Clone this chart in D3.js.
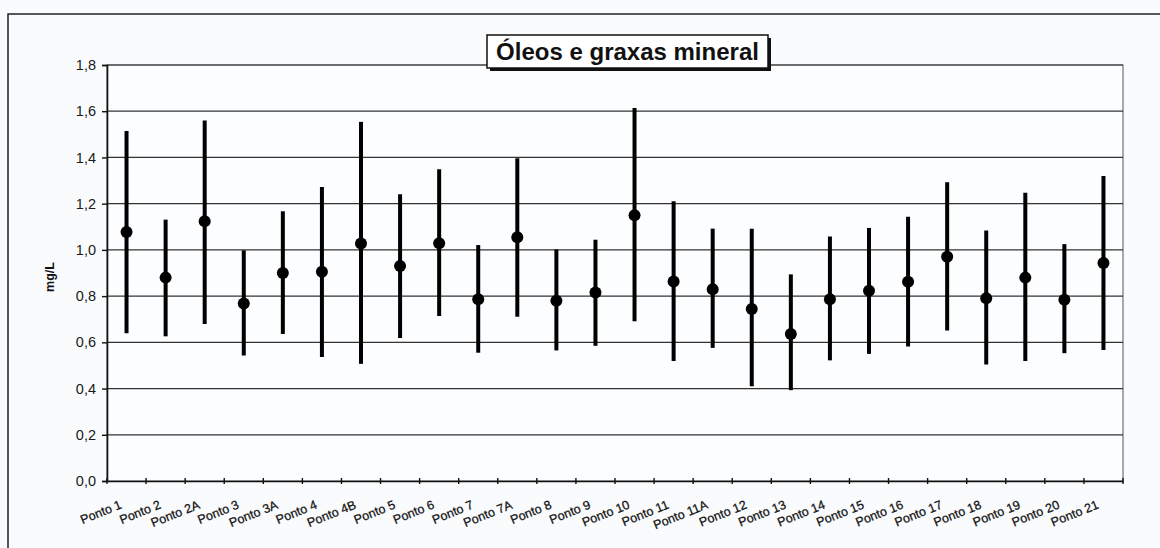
<!DOCTYPE html>
<html lang="pt">
<head>
<meta charset="UTF-8">
<title>Óleos e graxas mineral</title>
<script src="https://d3js.org/d3.v7.min.js"></script>
<style>
  body { margin: 0; background: #f9fbfd; }
  svg { display: block; font-family: "Liberation Sans", Arial, sans-serif; }
</style>
</head>
<body>
<div id="chart"></div>
<script>
// pontos de coleta
const pontos = ["Ponto 1", "Ponto 2", "Ponto 2A", "Ponto 3", "Ponto 3A", "Ponto 4", "Ponto 4B",
  "Ponto 5", "Ponto 6", "Ponto 7", "Ponto 7A", "Ponto 8", "Ponto 9", "Ponto 10", "Ponto 11",
  "Ponto 11A", "Ponto 12", "Ponto 13", "Ponto 14", "Ponto 15", "Ponto 16", "Ponto 17",
  "Ponto 18", "Ponto 19", "Ponto 20", "Ponto 21"];

// media (mg/L)
const media = [1.077, 0.880, 1.124, 0.768, 0.900, 0.905, 1.028, 0.930, 1.029, 0.786, 1.055,
  0.780, 0.816, 1.150, 0.863, 0.830, 0.744, 0.636, 0.786, 0.823, 0.862, 0.970, 0.791, 0.880,
  0.784, 0.943];

// limite superior
const maximo = [1.514, 1.131, 1.560, 0.998, 1.167, 1.272, 1.554, 1.241, 1.349, 1.021, 1.396,
  1.002, 1.044, 1.614, 1.210, 1.092, 1.092, 0.894, 1.058, 1.095, 1.143, 1.293, 1.084, 1.247,
  1.025, 1.320];

// limite inferior
const minimo = [0.639, 0.626, 0.679, 0.543, 0.636, 0.536, 0.507, 0.619, 0.714, 0.555, 0.711,
  0.565, 0.585, 0.691, 0.519, 0.576, 0.410, 0.393, 0.522, 0.550, 0.582, 0.651, 0.504, 0.519,
  0.553, 0.567];

const yTicks = [0, 0.2, 0.4, 0.6, 0.8, 1.0, 1.2, 1.4, 1.6, 1.8];

const W = 1160, H = 548;
const pLeft = 107, pRight = 1123, pTop = 65, pBottom = 481;

const svg = d3.select("#chart").append("svg")
  .attr("width", W).attr("height", H);

// moldura externa
svg.append("path")
  .attr("d", `M8,${H} L8,14 L${W},14`)
  .attr("fill", "none").attr("stroke", "#222").attr("stroke-width", 1.5);

const x = d3.scaleBand().domain(pontos).range([pLeft, pRight]).padding(0);
const y = d3.scaleLinear().domain([0, 1.8]).range([pBottom, pTop]);

const fmt = d => d3.format(".1f")(d).replace(".", ",");

// area do grafico
svg.append("rect")
  .attr("x", pLeft).attr("y", pTop)
  .attr("width", pRight - pLeft).attr("height", pBottom - pTop)
  .attr("fill", "#fcfdfe").attr("stroke", "#555").attr("stroke-width", 1);

// linhas de grade
svg.append("g").selectAll("line")
  .data(yTicks.filter(d => d > 0))
  .join("line")
  .attr("x1", pLeft).attr("x2", pRight)
  .attr("y1", d => y(d)).attr("y2", d => y(d))
  .attr("stroke", "#333").attr("stroke-width", 1.2);

// eixo y
const yAxis = svg.append("g")
  .attr("transform", `translate(${pLeft},0)`)
  .call(d3.axisLeft(y).tickValues(yTicks).tickFormat(fmt).tickSize(5).tickPadding(6));
yAxis.select(".domain").attr("stroke", "#111").attr("stroke-width", 1.6);
yAxis.selectAll(".tick line").attr("stroke", "#111").attr("stroke-width", 1.4);
yAxis.selectAll("text").attr("font-size", 14.5).attr("fill", "#1a1a1a");

// eixo x
const xAxis = svg.append("g")
  .attr("transform", `translate(0,${pBottom})`)
  .call(d3.axisBottom(x).tickSize(0).tickFormat(""));
xAxis.select(".domain").attr("stroke", "#111").attr("stroke-width", 1.6);

// marcas entre categorias
svg.append("g").selectAll("line")
  .data(pontos.concat(["fim"]))
  .join("line")
  .attr("x1", (d, i) => i < pontos.length ? x(d) : pRight)
  .attr("x2", (d, i) => i < pontos.length ? x(d) : pRight)
  .attr("y1", pBottom - 3).attr("y2", pBottom + 3)
  .attr("stroke", "#111").attr("stroke-width", 1.4);

// rotulos x
svg.append("g").selectAll("text")
  .data(pontos)
  .join("text")
  .attr("transform", d => `translate(${x(d) + x.bandwidth() / 2 - 4},${pBottom + 27}) rotate(-22)`)
  .attr("text-anchor", "end")
  .attr("font-size", 12.5)
  .attr("fill", "#111")
  .attr("stroke", "#111").attr("stroke-width", 0.25)
  .text(d => d);

// barras de erro
svg.append("g").selectAll("line")
  .data(pontos)
  .join("line")
  .attr("x1", d => x(d) + x.bandwidth() / 2)
  .attr("x2", d => x(d) + x.bandwidth() / 2)
  .attr("y1", (d, i) => y(maximo[i]))
  .attr("y2", (d, i) => y(minimo[i]))
  .attr("stroke", "#000").attr("stroke-width", 4);

// medias
svg.append("g").selectAll("circle")
  .data(pontos)
  .join("circle")
  .attr("cx", d => x(d) + x.bandwidth() / 2)
  .attr("cy", (d, i) => y(media[i]))
  .attr("r", 6)
  .attr("fill", "#000");

// rotulo do eixo y
svg.append("text")
  .attr("transform", "translate(54,277) rotate(-90)")
  .attr("text-anchor", "middle")
  .attr("font-size", 12.5).attr("font-weight", "bold")
  .attr("fill", "#111")
  .text("mg/L");

// titulo com sombra
const tg = svg.append("g");
tg.append("rect")
  .attr("x", 490).attr("y", 38).attr("width", 281).attr("height", 33)
  .attr("fill", "#111");
tg.append("rect")
  .attr("x", 487).attr("y", 35).attr("width", 281).attr("height", 33)
  .attr("fill", "#fff").attr("stroke", "#111").attr("stroke-width", 1.5);
tg.append("text")
  .attr("x", 627.5).attr("y", 60)
  .attr("text-anchor", "middle")
  .attr("font-size", 24).attr("font-weight", "bold")
  .attr("fill", "#111")
  .text("Óleos e graxas mineral");
</script>
</body>
</html>
